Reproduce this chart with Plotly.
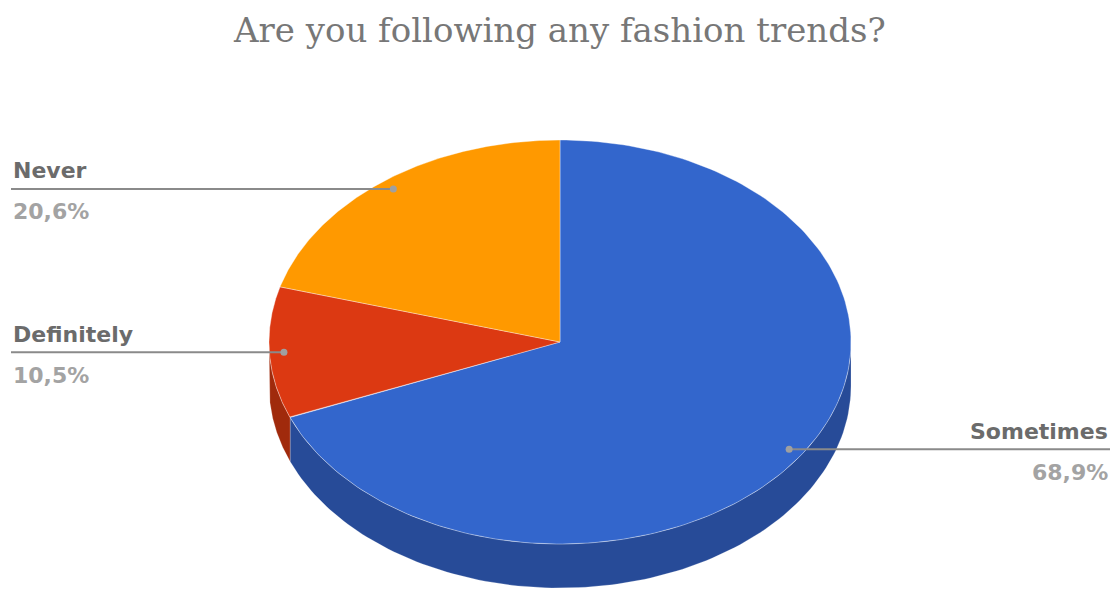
import numpy as np
import plotly.graph_objects as go

# ---- data ----
categories = ["Sometimes", "Definitely", "Never"]
shares = [68.9, 10.5, 20.6]
pct_labels = ["68,9%", "10,5%", "20,6%"]
title_text = "Are you following any fashion trends?"

# ---- style / layout ----
top_colors = ["#3366cc", "#dc3912", "#ff9900"]
side_colors = ["#274b98", "#a02a0c", "#b86e00"]
W, H = 1120, 590
CX, CY, RX, RY, DEPTH = 560, 342, 291, 202, 44
DOT_F = 0.95


def ell(theta_deg, f=1.0, drop=0.0):
    t = np.radians(theta_deg)
    return CX + f * RX * np.sin(t), CY - f * RY * np.cos(t) + drop


fig = go.Figure()

total = sum(shares)
starts, ends = [], []
acc = 0.0
for s in shares:
    starts.append(acc / total * 360)
    acc += s
    ends.append(acc / total * 360)

# sides (front-facing part: 90..270 deg clockwise from top)
for i in range(len(shares)):
    a = max(starts[i], 90)
    b = min(ends[i], 270)
    if b <= a:
        continue
    th = np.linspace(a, b, 120)
    xt, yt = ell(th)
    xb, yb = ell(th[::-1], drop=DEPTH)
    xs = np.concatenate([xt, xb, xt[:1]])
    ys = np.concatenate([yt, yb, yt[:1]])
    fig.add_trace(go.Scatter(x=xs, y=ys, mode="lines", fill="toself",
                             fillcolor=side_colors[i],
                             line=dict(color="rgba(255,255,255,0.35)", width=0.6),
                             hoverinfo="skip", showlegend=False))

# tops
for i in range(len(shares)):
    th = np.linspace(starts[i], ends[i], 200)
    xa, ya = ell(th)
    xs = np.concatenate([[CX], xa, [CX]])
    ys = np.concatenate([[CY], ya, [CY]])
    fig.add_trace(go.Scatter(x=xs, y=ys, mode="lines", fill="toself",
                             fillcolor=top_colors[i],
                             line=dict(color="rgba(255,255,255,0.45)", width=0.8),
                             hoverinfo="skip", showlegend=False,
                             name=categories[i]))

# leader lines, dots, labels
for i in range(len(shares)):
    mid = (starts[i] + ends[i]) / 2
    dx, dy = ell(mid, f=DOT_F)
    left = mid > 180
    xe = 11 if left else 1110
    fig.add_trace(go.Scatter(x=[xe, dx], y=[dy, dy], mode="lines",
                             line=dict(color="#8a8a8a", width=2),
                             hoverinfo="skip", showlegend=False))
    fig.add_trace(go.Scatter(x=[dx], y=[dy], mode="markers",
                             marker=dict(color="#a0a0a0", size=7),
                             hoverinfo="skip", showlegend=False))
    anchor = "left" if left else "right"
    fig.add_annotation(x=xe, y=dy - 18, text=categories[i], showarrow=False,
                       xanchor=anchor, yanchor="middle",
                       font=dict(family="DejaVu Sans", size=22, color="#6b6b6b",
                                 weight="bold"))
    fig.add_annotation(x=xe, y=dy + 23, text=pct_labels[i], showarrow=False,
                       xanchor=anchor, yanchor="middle",
                       font=dict(family="DejaVu Sans", size=22, color="#a3a3a3",
                                 weight="bold"))

fig.add_annotation(x=559, y=30, text=title_text, showarrow=False,
                   xanchor="center", yanchor="middle",
                   font=dict(family="DejaVu Serif", size=34, color="#777777"))

fig.update_layout(
    width=W, height=H,
    margin=dict(l=0, r=0, t=0, b=0),
    paper_bgcolor="white", plot_bgcolor="white",
    xaxis=dict(range=[0, W], visible=False, fixedrange=True),
    yaxis=dict(range=[H, 0], visible=False, fixedrange=True),
    showlegend=False,
)

fig.write_html("out.html")
